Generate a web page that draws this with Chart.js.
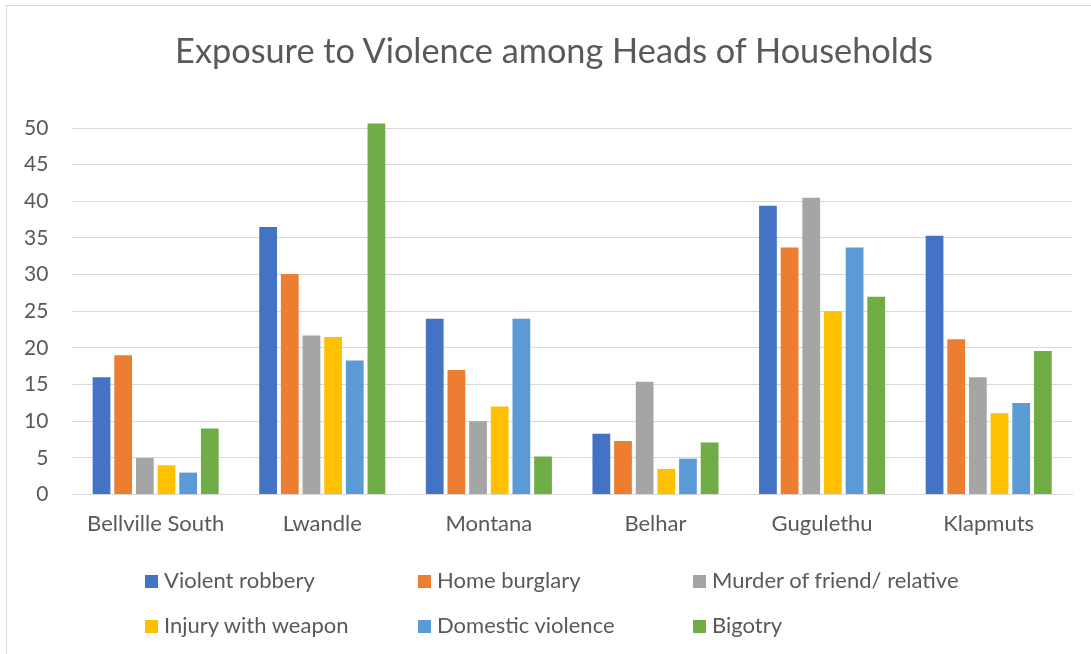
<!DOCTYPE html>
<html>
<head>
<meta charset="utf-8">
<script src="https://cdn.jsdelivr.net/npm/chart.js@4.4.1/dist/chart.umd.min.js"></script>
<style>
  html, body { margin: 0; padding: 0; background: #fff; }
  #wrap { position: relative; width: 1091px; height: 654px; overflow: hidden; }
  #frame { position: absolute; left: 6px; top: 5px; width: 1200px; height: 800px; border: 1px solid #d9d9d9; }
  #chart { position: absolute; left: 0; top: 0; }
  #title { position: absolute; left: 0; top: 30px; width: 1108px; text-align: center; font-family: Lato, sans-serif;
           font-size: 34.3px; line-height: 40px; color: #595959; white-space: nowrap; }
  .leg { position: absolute; font-family: Lato, sans-serif; font-size: 22px; color: #595959; white-space: nowrap; line-height: 26px; }
  .leg span { display: inline-block; width: 13px; height: 13px; margin-right: 6px; vertical-align: 0px; }
</style>
</head>
<body>
<div id="wrap">
  <div id="frame"></div>
  <canvas id="chart" width="1091" height="654"></canvas>
  <div id="title">Exposure to Violence among Heads of Households</div>
  <div id="legend"></div>
</div>
<script>
// Category labels (townships)
const areas = ['Bellville South', 'Lwandle', 'Montana', 'Belhar', 'Gugulethu', 'Klapmuts'];

// Series values
const violentRobbery = [16, 36.5, 24, 8.3, 39.4, 35.3];
const homeBurglary = [19, 30.1, 17, 7.3, 33.7, 21.2];
const murderFriend = [5, 21.7, 10, 15.4, 40.5, 16];
const injuryWeapon = [4, 21.5, 12, 3.5, 25, 11.1];
const domesticViolence = [3, 18.3, 24, 4.9, 33.7, 12.5];
const bigotry = [9, 50.6, 5.2, 7.1, 27, 19.6];

const seriesNames = ['Violent robbery', 'Home burglary', 'Murder of friend/ relative',
    'Injury with weapon', 'Domestic violence', 'Bigotry'];
const seriesData = [violentRobbery, homeBurglary, murderFriend, injuryWeapon, domesticViolence, bigotry];
const seriesColors = ['#4472C4', '#ED7D31', '#A5A5A5', '#FFC000', '#5B9BD5', '#70AD47'];

// y axis ticks
const yMin = 0;
const yMax = 50;
const yStep = 5;

const textColor = '#595959';
const gridColor = '#d9d9d9';

function buildDatasets() {
    return seriesNames.map((name, i) => ({
        label: name,
        data: seriesData[i],
        backgroundColor: seriesColors[i],
        borderWidth: 0,
        categoryPercentage: 0.78,
        barPercentage: 0.82,
        clip: false
    }));
}

// legend drawn as html so the columns line up like the original
function buildLegend() {
    const legend = document.getElementById('legend');
    const cols = [145, 418, 693];
    const rows = [567, 612];
    seriesNames.forEach((name, i) => {
        const item = document.createElement('div');
        item.className = 'leg';
        item.style.left = cols[i % 3] + 'px';
        item.style.top = rows[Math.floor(i / 3)] + 'px';
        item.innerHTML = '<span style="background:' + seriesColors[i] + '"></span>' + name;
        legend.appendChild(item);
    });
}

const ctx = document.getElementById('chart').getContext('2d');
const chart = new Chart(ctx, {
    type: 'bar',
    data: {
        labels: areas,
        datasets: buildDatasets()
    },
    options: {
        responsive: false,
        animation: false,
        layout: {
            padding: { left: 0, right: 19, top: 128, bottom: 101 }
        },
        plugins: {
            legend: { display: false },
            tooltip: { enabled: false },
            title: { display: false }
        },
        scales: {
            x: {
                grid: { display: false, drawTicks: false },
                border: { display: true, color: gridColor, width: 1 },
                ticks: {
                    color: textColor,
                    font: { family: 'Lato', size: 22 },
                    padding: 16,
                    maxRotation: 0
                }
            },
            y: {
                min: yMin,
                max: yMax,
                grid: { color: gridColor, lineWidth: 1, drawTicks: false },
                border: { display: false },
                ticks: {
                    stepSize: yStep,
                    color: textColor,
                    font: { family: 'Lato', size: 21 },
                    padding: 24
                }
            }
        }
    }
});

buildLegend();
</script>
</body>
</html>
